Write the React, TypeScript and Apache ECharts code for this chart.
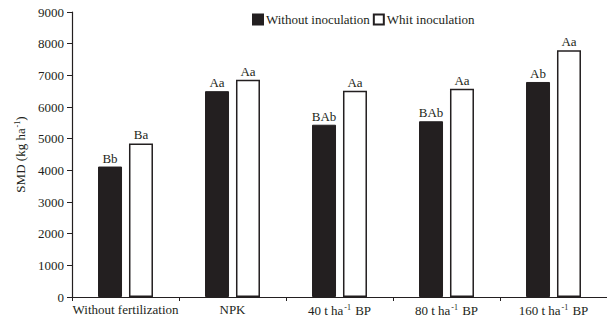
import React, { useEffect, useRef } from "react";
import * as echarts from "echarts";

const categories = ["Without fertilization", "NPK", "40 t ha-1 BP", "80 t ha-1 BP", "160 t ha-1 BP"];
const seriesNames = ["Without inoculation", "Whit inoculation"];
const withoutInoculation = [4120, 6500, 5440, 5550, 6790];
const withInoculation = [4850, 6860, 6510, 6580, 7790];
const withoutLetters = ["Bb", "Aa", "BAb", "BAb", "Ab"];
const withLetters = ["Ba", "Aa", "Aa", "Aa", "Aa"];
const yTicks = { min: 0, max: 9000, interval: 1000 };

const FONT = "Liberation Serif, Times New Roman, serif";
const TXT = "#231f20";

function fmtCat(v: string) {
  const m = v.match(/^(.*)ha-1(.*)$/);
  if (m) return `{n|${m[1]}ha}{s|-1}{n|${m[2]}}`;
  return `{n|${v}}`;
}

export default function App() {
  const ref = useRef<HTMLDivElement>(null);
  useEffect(() => {
    if (!ref.current) return;
    const chart = echarts.init(ref.current, null, { renderer: "svg" });
    const richText = {
      n: { fontFamily: FONT, fontSize: 13, color: TXT },
      s: { fontFamily: FONT, fontSize: 8, color: TXT, verticalAlign: "top", padding: [0, 1, 6, 1] },
    };
    chart.setOption({
      animation: false,
      backgroundColor: "#ffffff",
      grid: { left: 72, top: 12, width: 541, height: 285, containLabel: false },
      legend: {
        data: seriesNames,
        left: 252,
        top: 13,
        padding: 0,
        itemWidth: 10,
        itemHeight: 10,
        itemGap: 3,
        icon: "rect",
        textStyle: { fontFamily: FONT, fontSize: 13, color: TXT, padding: [0, 0, 0, -2] },
      },
      xAxis: {
        type: "category",
        data: categories,
        axisLine: { lineStyle: { color: TXT, width: 1.2 } },
        axisTick: { show: true, alignWithLabel: false, length: 4, lineStyle: { color: TXT } },
        axisLabel: {
          margin: 6,
          interval: 0,
          formatter: (v: string) => fmtCat(v),
          rich: richText,
        },
      },
      yAxis: {
        type: "value",
        min: yTicks.min,
        max: yTicks.max,
        interval: yTicks.interval,
        name: "SMD (kg ha{s|-1})",
        nameLocation: "middle",
        nameGap: 37,
        nameTextStyle: {
          fontFamily: FONT,
          fontSize: 13,
          color: TXT,
          rich: {
            s: { fontFamily: FONT, fontSize: 8, color: TXT, verticalAlign: "top", padding: [0, 0, 6, 1] },
          },
        },
        axisLine: { show: true, lineStyle: { color: TXT, width: 1.2 } },
        axisTick: { show: true, length: 5, lineStyle: { color: TXT } },
        splitLine: { show: false },
        axisLabel: {
          fontFamily: FONT,
          fontSize: 13,
          color: TXT,
          margin: 8,
          formatter: (v: number) => String(v),
        },
      },
      series: [
        {
          name: seriesNames[0],
          type: "bar",
          data: withoutInoculation,
          barWidth: 24,
          barGap: "29%",
          itemStyle: { color: "#231f20", borderColor: "#231f20", borderWidth: 1 },
          label: {
            show: true,
            position: "top",
            distance: 2,
            fontFamily: FONT,
            fontSize: 13,
            color: TXT,
            formatter: (p: any) => withoutLetters[p.dataIndex],
          },
        },
        {
          name: seriesNames[1],
          type: "bar",
          data: withInoculation,
          barWidth: 24,
          itemStyle: { color: "#ffffff", borderColor: "#231f20", borderWidth: 1.5 },
          label: {
            show: true,
            position: "top",
            distance: 2,
            fontFamily: FONT,
            fontSize: 13,
            color: TXT,
            formatter: (p: any) => withLetters[p.dataIndex],
          },
        },
      ],
    });
    return () => chart.dispose();
  }, []);
  return (
    <div
      ref={ref}
      style={{ position: "absolute", left: 0, top: 0, width: 607, height: 321, background: "#fff" }}
    />
  );
}
